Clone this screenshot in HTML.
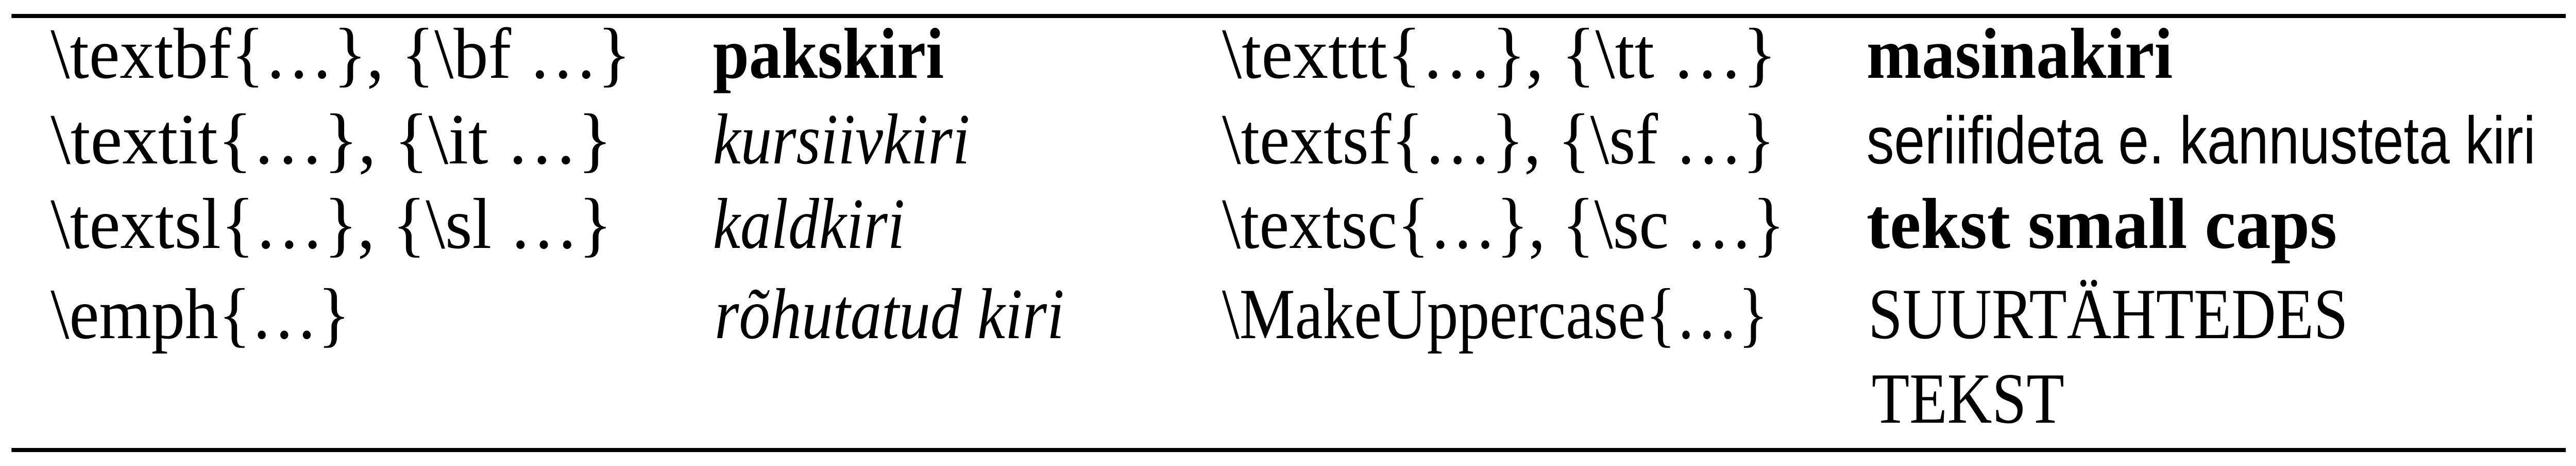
<!DOCTYPE html>
<html><head><meta charset="utf-8"><style>
html,body{margin:0;padding:0;background:#fff;overflow:hidden;height:904px}
svg{display:block;width:100vw;height:904px}
svg text{font-family:"Liberation Serif",serif;font-size:140px;fill:#000;text-anchor:start}
</style></head><body>
<svg viewBox="0 0 6056 904" preserveAspectRatio="none" xmlns="http://www.w3.org/2000/svg">
<rect x="27" y="27" width="6005" height="8" fill="#000"/>
<rect x="27" y="869" width="6005" height="8" fill="#000"/>
<text x="119" y="151" textLength="1364" lengthAdjust="spacingAndGlyphs">\textbf{…}, {\bf …}</text>
<text x="119" y="317" textLength="1320" lengthAdjust="spacingAndGlyphs">\textit{…}, {\it …}</text>
<text x="119" y="481" textLength="1320" lengthAdjust="spacingAndGlyphs">\textsl{…}, {\sl …}</text>
<text x="119" y="656" textLength="704" lengthAdjust="spacingAndGlyphs">\emph{…}</text>

<text x="1676" y="151" textLength="543" lengthAdjust="spacingAndGlyphs" font-weight="bold">pakskiri</text>
<text x="1676" y="317" textLength="604" lengthAdjust="spacingAndGlyphs" font-style="italic">kursiivkiri</text>
<text x="1676" y="481" textLength="451" lengthAdjust="spacingAndGlyphs" font-style="italic">kaldkiri</text>
<text x="1680" y="656" textLength="822" lengthAdjust="spacingAndGlyphs" font-style="italic">rõhutatud kiri</text>

<text x="2873" y="151" textLength="1304" lengthAdjust="spacingAndGlyphs">\texttt{…}, {\tt …}</text>
<text x="2873" y="317" textLength="1300" lengthAdjust="spacingAndGlyphs">\textsf{…}, {\sf …}</text>
<text x="2873" y="481" textLength="1323" lengthAdjust="spacingAndGlyphs">\textsc{…}, {\sc …}</text>
<text x="2873" y="656" textLength="1284" lengthAdjust="spacingAndGlyphs">\MakeUppercase{…}</text>

<text x="4388" y="151" textLength="720" lengthAdjust="spacingAndGlyphs" font-weight="bold">masinakiri</text>
<text x="4388" y="317" textLength="1573" lengthAdjust="spacingAndGlyphs" style="font-family:'Liberation Sans',sans-serif;font-size:130px">seriifideta e. kannusteta kiri</text>
<text x="4388" y="481" textLength="1106" lengthAdjust="spacingAndGlyphs" font-weight="bold">tekst small caps</text>
<text x="4392" y="656" textLength="1128" lengthAdjust="spacingAndGlyphs">SUURTÄHTEDES</text>
<text x="4400" y="820" textLength="453" lengthAdjust="spacingAndGlyphs">TEKST</text>
</svg>
</body></html>
